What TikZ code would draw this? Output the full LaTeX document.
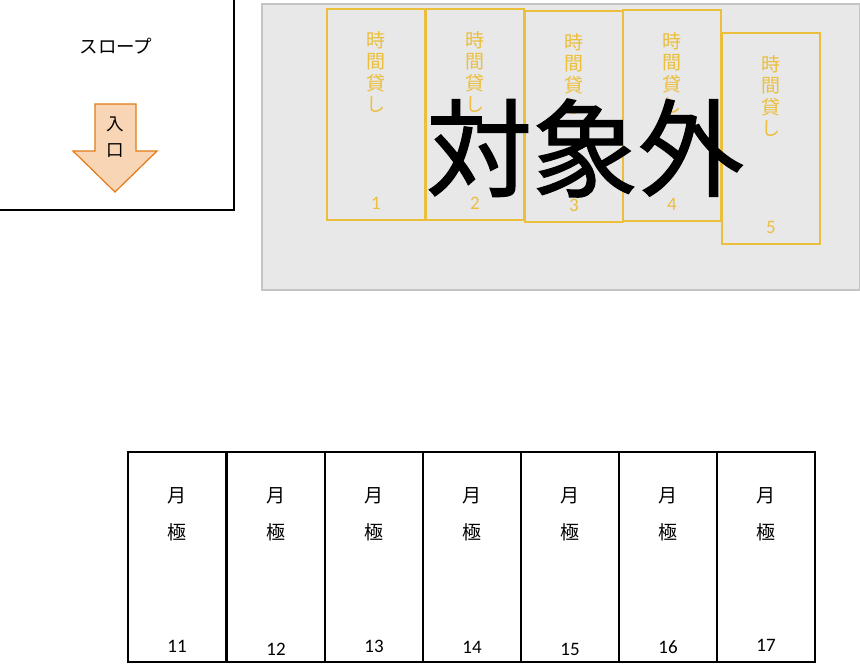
\documentclass[tikz,border=0pt]{standalone}
\usepackage{fontspec}
\setmainfont{Carlito}
\newfontfamily\jpfont{Noto Sans CJK JP}
\newfontfamily\jpheavy[FakeBold=1.2]{Noto Sans CJK JP}
\definecolor{rentyellow}{HTML}{EBBE3C}
\definecolor{areagray}{HTML}{E8E8E8}
\definecolor{areaedge}{HTML}{C4C4C4}
\definecolor{gatefill}{HTML}{F8D5B4}
\definecolor{gateedge}{HTML}{E27B16}
\begin{document}
\begin{tikzpicture}[x=1pt,y=-1pt,
  rentline/.style={draw=rentyellow,line width=1.3pt},
  monthline/.style={draw=black,line width=1.5pt},
  rentchar/.style={text=rentyellow,font=\jpfont\fontsize{19}{21.5}\selectfont,align=center,inner sep=0pt},
  rentnum/.style={text=rentyellow,font=\fontsize{19}{19}\selectfont,inner sep=0pt},
  monthchar/.style={font=\jpfont\fontsize{19}{19}\selectfont,inner sep=0pt},
  monthnum/.style={font=\fontsize{19}{19}\selectfont,inner sep=0pt}]
\useasboundingbox (0,0) rectangle (860,665);
\draw[line width=2.2pt] (0,210) -- (234,210) -- (234,0);
\node[font=\jpfont\fontsize{18.5}{18.5}\selectfont] (slope) at (116,46) {スロープ};
\draw[fill=gatefill,draw=gateedge,line width=1.2pt] (95,104) -- (136,104) -- (136,151) -- (157,151) -- (115,192) -- (73,151) -- (95,151) -- cycle;
\node[font=\jpfont\fontsize{17.5}{17.5}\selectfont,inner sep=0pt] (gatein) at (115,124) {入};
\node[font=\jpfont\fontsize{17.5}{17.5}\selectfont,inner sep=0pt] (gatemouth) at (115,151) {口};
\draw[fill=areagray,draw=areaedge,line width=1.5pt] (262,4) rectangle (860,290);
\foreach \n/\x/\y in {1/327/9,2/426/9,3/525/11,4/623/10,5/722/33} {
  \draw[rentline] (\x,\y) rectangle (\x+98,\y+211);
  \node[rentchar] (rent\n) at (\x+49,\y+63) {時\\間\\貸\\し};
  \node[rentnum] (rentno\n) at (\x+49,\y+194) {\n};
}
\foreach \n/\x/\d in {11/128/0,12/227/3,13/325/0,14/423/1,15/521/3,16/619/1,17/717/-1} {
  \draw[monthline] (\x,452) rectangle (\x+98,662);
  \node[monthchar] (tsuki\n) at (\x+49,496) {月};
  \node[monthchar] (kiwami\n) at (\x+49,532) {極};
  \node[monthnum] (monthno\n) at (\x+49,646+\d) {\n};
}
\node[font=\jpheavy\fontsize{106}{106}\selectfont,inner sep=0pt] (outside) at (585,148) {対象外};
\end{tikzpicture}
\end{document}
